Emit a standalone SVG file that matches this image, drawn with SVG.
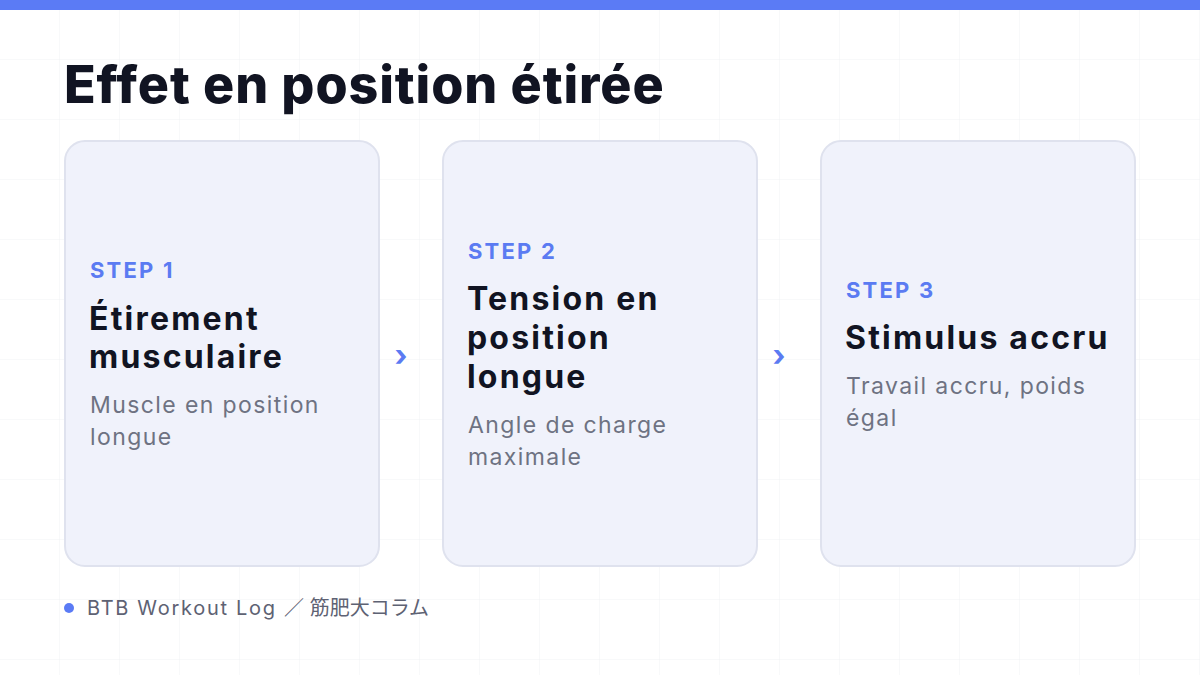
<svg xmlns="http://www.w3.org/2000/svg" width="1200" height="675" viewBox="0 0 1200 675">
<defs>
<pattern id="grid" width="60" height="60" patternUnits="userSpaceOnUse">
<path d="M60 0V60M0 60H60" fill="none" stroke="#F1F2F5" stroke-width="1"/>
</pattern>
</defs>
<style>
.card{fill:#F0F2FB;stroke:#DFE2EE;stroke-width:2}
.step{font-family:Inter,"Noto Sans",sans-serif;font-weight:700;font-size:22px;letter-spacing:2.2px;fill:#5B7BF2}
.ttl{font-family:Inter,"Noto Sans",sans-serif;font-weight:700;font-size:32px;letter-spacing:2.2px;fill:#111422}
.desc{font-family:Inter,"Noto Sans",sans-serif;font-size:23px;letter-spacing:1.4px;fill:#6E7282}
.arrow{font-family:Inter,"Noto Sans",sans-serif;font-weight:700;font-size:30px;fill:#5B7BF2}
</style>
<rect width="1200" height="675" fill="#FFFFFF"/>
<rect width="1200" height="675" fill="url(#grid)"/>
<rect width="1200" height="10" fill="#5B7BF5"/>
<text x="64" y="103" font-family="Inter,'Noto Sans',sans-serif" font-weight="800" font-size="52" letter-spacing="0.9" fill="#111422">Effet en position étirée</text>
<g id="step1">
<rect class="card" x="65" y="141" width="314" height="425" rx="20"/>
<text class="step" x="90" y="278">STEP 1</text>
<text class="ttl" x="89" y="330">Étirement</text>
<text class="ttl" x="89" y="368">musculaire</text>
<text class="desc" x="90" y="413">Muscle en position</text>
<text class="desc" x="90" y="445">longue</text>
</g>
<g id="step2">
<rect class="card" x="443" y="141" width="314" height="425" rx="20"/>
<text class="step" x="468" y="259">STEP 2</text>
<text class="ttl" x="467" y="310">Tension en</text>
<text class="ttl" x="467" y="349">position</text>
<text class="ttl" x="467" y="388">longue</text>
<text class="desc" x="468" y="433">Angle de charge</text>
<text class="desc" x="468" y="465">maximale</text>
</g>
<g id="step3">
<rect class="card" x="821" y="141" width="314" height="425" rx="20"/>
<text class="step" x="846" y="298">STEP 3</text>
<text class="ttl" x="845" y="349">Stimulus accru</text>
<text class="desc" x="846" y="394">Travail accru, poids</text>
<text class="desc" x="846" y="426">égal</text>
</g>
<g id="connectors">
<text class="arrow" x="401" y="366" text-anchor="middle">›</text>
<text class="arrow" x="779" y="366" text-anchor="middle">›</text>
</g>
<g id="footer">
<circle cx="69" cy="608" r="5" fill="#5B7BF5"/>
<text x="87" y="615" font-family="Inter,'Noto Sans','Noto Sans CJK JP',sans-serif" font-size="20" fill="#5E6273"><tspan letter-spacing="1.7">BTB Workout Log </tspan><tspan letter-spacing="0">／ 筋肥大コラム</tspan></text>
</g>
</svg>
